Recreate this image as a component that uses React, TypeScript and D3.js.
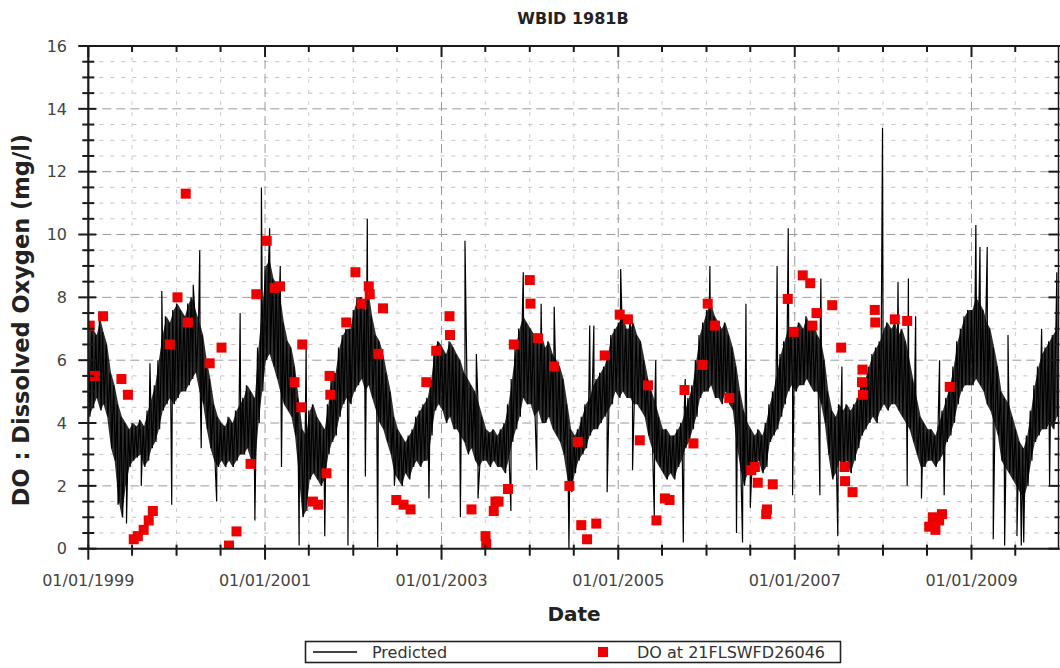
import React, { useEffect, useRef } from 'react';
import * as d3 from 'd3';

// ---- data ----
const START = '1999-01-01';
const END = '2009-12-31';

// predicted DO trace, upper / lower edge of the daily band, two samples per month (1st and 16th)
const predHi = [
  7.2, 7.0, 6.8, 7.3, 6.9, 6.5, 5.6, 5.2, 4.6, 4.2, 4.0, 3.8, 4.0, 3.9, 4.1, 3.9, 4.4, 4.8, 5.2, 6.0, 6.8, 7.4, 7.2, 7.6, // 1999
  7.8, 7.6, 7.4, 7.8, 8.0, 7.6, 7.2, 6.8, 6.0, 5.4, 4.6, 4.2, 4.0, 3.9, 4.2, 4.0, 4.4, 4.6, 4.8, 5.2, 5.0, 4.8, 6.4, 7.6, // 2000
  9.0, 9.2, 8.6, 8.4, 8.0, 7.2, 6.6, 6.4, 5.8, 4.8, 3.8, 3.6, 4.4, 4.6, 4.2, 4.0, 3.8, 4.6, 5.4, 5.6, 6.4, 6.8, 7.0, 7.0, // 2001
  7.6, 8.0, 8.0, 7.6, 8.2, 7.4, 6.8, 6.6, 6.2, 5.6, 5.0, 4.2, 3.8, 3.6, 3.4, 3.6, 3.8, 4.2, 4.4, 4.6, 4.8, 5.4, 6.4, 6.6, // 2002
  6.4, 6.2, 6.6, 6.4, 6.2, 6.0, 5.6, 5.4, 5.2, 5.0, 4.6, 4.2, 3.8, 3.7, 3.8, 3.6, 3.8, 4.0, 4.6, 5.4, 6.4, 7.0, 7.4, 7.2, // 2003
  7.0, 6.8, 6.6, 6.8, 6.4, 6.6, 6.2, 6.0, 5.8, 5.4, 4.6, 3.8, 3.6, 3.8, 4.2, 4.6, 4.8, 5.2, 5.4, 5.6, 5.8, 6.2, 6.8, 7.0, // 2004
  7.2, 7.4, 7.0, 7.0, 7.2, 6.8, 6.6, 6.0, 5.4, 5.0, 4.6, 4.2, 3.8, 3.8, 3.6, 3.6, 3.8, 4.0, 4.4, 4.8, 5.2, 6.0, 6.8, 7.2, // 2005
  7.6, 7.8, 7.4, 7.2, 7.0, 7.2, 6.8, 6.4, 5.8, 5.0, 4.4, 4.0, 3.8, 3.6, 3.8, 3.6, 4.0, 4.6, 5.0, 5.6, 6.2, 6.6, 7.0, 7.0, // 2006
  7.0, 7.2, 7.0, 7.4, 7.0, 7.2, 6.8, 6.6, 6.0, 5.0, 4.4, 4.2, 4.6, 4.4, 4.6, 4.4, 4.6, 4.8, 5.2, 5.4, 5.8, 6.2, 6.4, 6.6, // 2007
  7.0, 7.2, 7.0, 7.2, 6.8, 7.0, 6.6, 6.0, 5.4, 4.8, 4.2, 4.0, 3.8, 3.8, 3.6, 4.0, 4.4, 4.8, 5.2, 5.8, 6.6, 7.0, 7.4, 7.6, // 2008
  7.6, 8.0, 7.8, 7.6, 7.2, 7.0, 6.4, 5.8, 5.0, 4.8, 4.6, 4.2, 3.8, 3.4, 3.2, 3.6, 4.4, 5.2, 5.8, 6.2, 6.4, 6.6, 6.8, 7.0, // 2009
];
const predLo = [
  4.2, 4.5, 4.8, 4.4, 4.6, 4.2, 3.2, 2.8, 1.6, 1.0, 2.0, 2.6, 2.8, 2.9, 3.0, 2.6, 2.8, 3.2, 3.4, 3.8, 4.4, 4.6, 4.8, 4.6, // 1999
  4.8, 5.0, 5.0, 5.2, 5.4, 5.6, 5.0, 4.6, 3.8, 3.2, 2.8, 2.6, 2.8, 2.6, 2.8, 2.6, 2.8, 3.0, 3.0, 3.2, 2.8, 2.6, 4.0, 5.0, // 2000
  6.0, 6.2, 5.8, 5.4, 5.0, 4.6, 4.4, 4.2, 3.6, 2.4, 1.0, 1.2, 2.2, 2.4, 2.2, 2.0, 2.2, 3.0, 3.4, 3.6, 4.2, 4.6, 4.8, 4.6, // 2001
  5.0, 5.2, 5.4, 5.0, 5.2, 4.8, 4.4, 4.0, 3.8, 3.4, 3.0, 2.4, 2.2, 2.0, 2.4, 2.2, 2.6, 2.8, 2.6, 2.8, 2.8, 3.6, 4.4, 4.6, // 2002
  4.4, 4.0, 4.2, 3.8, 3.8, 3.6, 3.4, 3.0, 3.2, 2.8, 2.6, 2.8, 2.8, 2.6, 2.8, 2.6, 2.6, 2.4, 2.8, 3.4, 3.8, 4.2, 4.8, 4.6, // 2003
  4.6, 4.2, 4.4, 4.0, 4.0, 4.2, 3.8, 3.6, 3.4, 3.0, 2.2, 1.8, 2.4, 2.8, 3.0, 3.2, 3.6, 3.8, 3.8, 4.0, 4.2, 4.4, 4.6, 5.0, // 2004
  4.8, 5.0, 4.8, 4.8, 4.6, 4.6, 4.4, 4.2, 3.6, 3.2, 2.8, 2.6, 2.4, 2.2, 2.4, 2.2, 2.6, 2.8, 3.2, 3.4, 3.8, 4.2, 4.8, 5.0, // 2005
  5.0, 5.2, 4.8, 4.8, 4.6, 5.0, 4.6, 4.4, 3.4, 2.6, 2.0, 2.4, 2.6, 2.6, 2.8, 2.4, 2.6, 3.4, 3.6, 3.8, 4.2, 4.6, 5.0, 5.2, // 2006
  5.0, 5.2, 5.2, 5.4, 5.2, 5.0, 5.0, 4.6, 4.0, 3.0, 2.2, 2.4, 2.8, 2.6, 2.8, 2.4, 2.8, 3.2, 3.6, 3.8, 4.0, 4.2, 4.0, 4.4, // 2007
  4.6, 4.4, 4.6, 4.6, 4.4, 4.2, 4.0, 3.8, 3.4, 3.0, 2.6, 2.6, 2.8, 2.8, 2.6, 2.8, 3.0, 3.4, 3.6, 4.0, 4.6, 5.0, 5.2, 5.2, // 2008
  5.2, 5.4, 5.2, 5.0, 4.6, 4.4, 4.0, 3.6, 2.8, 2.6, 2.4, 2.2, 2.0, 1.8, 1.6, 2.0, 2.8, 3.4, 3.6, 3.8, 3.8, 4.0, 3.8, 4.2, // 2009
];

// isolated spikes of the predicted trace
const predSpikes: [string, number][] = [
  ['1999-05-04', 1.4], ['1999-06-08', 0.8], ['1999-08-08', 2.0], ['1999-09-13', 5.9], ['1999-11-01', 8.2], ['1999-12-12', 1.4],
  ['2000-03-10', 8.4], ['2000-04-06', 9.5], ['2000-04-12', 3.2], ['2000-06-15', 1.5], ['2000-09-20', 7.5], ['2000-11-20', 0.9], ['2000-12-17', 11.5],
  ['2001-01-20', 10.2], ['2001-03-05', 9.0], ['2001-03-10', 2.6], ['2001-05-22', 0.1], ['2001-06-20', 6.4], ['2001-09-05', 0.4], ['2001-12-10', 0.1],
  ['2002-02-20', 2.3], ['2002-02-28', 10.5], ['2002-04-12', 0.05], ['2002-06-20', 2.0], ['2002-11-10', 1.6],
  ['2003-03-20', 1.0], ['2003-04-08', 9.8], ['2003-05-25', 6.2], ['2003-06-01', 1.6], ['2003-10-15', 1.2], ['2003-12-05', 8.8],
  ['2004-01-30', 2.5], ['2004-02-17', 7.8], ['2004-04-11', 7.7], ['2004-06-11', 0.0], ['2004-09-05', 7.1], ['2004-09-22', 7.1], ['2004-11-16', 1.8],
  ['2005-01-11', 8.9], ['2005-02-20', 7.4], ['2005-03-01', 2.5], ['2005-05-30', 1.0], ['2005-06-05', 6.0], ['2005-09-27', 0.2], ['2005-10-05', 5.4],
  ['2006-01-15', 9.0], ['2006-05-05', 0.5], ['2006-05-30', 0.2], ['2006-06-13', 7.8], ['2006-07-01', 1.3], ['2006-10-20', 9.0], ['2006-12-05', 10.2], ['2006-12-23', 1.7],
  ['2007-04-15', 1.7], ['2007-04-19', 8.6], ['2007-06-28', 0.4], ['2007-07-15', 5.8], ['2007-12-30', 13.4],
  ['2008-03-03', 8.5], ['2008-04-10', 2.0], ['2008-04-15', 8.6], ['2008-05-15', 7.4], ['2008-06-08', 1.6], ['2008-08-22', 6.0], ['2008-09-10', 1.7],
  ['2009-01-19', 10.3], ['2009-02-05', 9.6], ['2009-03-07', 9.6], ['2009-04-01', 0.3], ['2009-05-18', 0.1], ['2009-06-01', 6.8], ['2009-07-08', 0.4],
  ['2009-07-26', 0.1], ['2009-08-05', 0.2], ['2009-10-18', 7.0], ['2009-11-20', 2.0], ['2009-12-20', 8.8],
];

// measured DO at station 21FLSWFD26046
const observed: [string, number][] = [
  ['1999-01-07', 7.1], ['1999-01-28', 5.5], ['1999-03-03', 7.4], ['1999-05-18', 5.4], ['1999-06-14', 4.9], ['1999-07-08', 0.3],
  ['1999-07-25', 0.4], ['1999-08-18', 0.6], ['1999-09-08', 0.9], ['1999-09-25', 1.2], ['1999-12-04', 6.5],
  ['2000-01-05', 8.0], ['2000-02-08', 11.3], ['2000-02-17', 7.2], ['2000-05-17', 5.9], ['2000-07-05', 6.4], ['2000-08-05', 0.1],
  ['2000-09-05', 0.55], ['2000-11-02', 2.7], ['2000-11-26', 8.1],
  ['2001-01-08', 9.8], ['2001-02-10', 8.3], ['2001-03-04', 8.35], ['2001-05-03', 5.3], ['2001-05-31', 4.5], ['2001-06-04', 6.5],
  ['2001-07-18', 1.5], ['2001-08-09', 1.4], ['2001-09-12', 2.4], ['2001-09-25', 5.5], ['2001-09-28', 4.9], ['2001-12-03', 7.2],
  ['2002-01-10', 8.8], ['2002-02-04', 7.8], ['2002-03-06', 8.35], ['2002-03-10', 8.1], ['2002-04-15', 6.2], ['2002-05-04', 7.65],
  ['2002-06-28', 1.55], ['2002-07-28', 1.4], ['2002-08-26', 1.25], ['2002-10-30', 5.3], ['2002-12-10', 6.3],
  ['2003-02-03', 7.4], ['2003-02-05', 6.8], ['2003-05-05', 1.25], ['2003-07-02', 0.4], ['2003-07-05', 0.15], ['2003-08-05', 1.2],
  ['2003-08-12', 1.5], ['2003-08-25', 1.5], ['2003-10-03', 1.9], ['2003-10-27', 6.5],
  ['2004-01-01', 8.55], ['2004-01-04', 7.8], ['2004-02-04', 6.7], ['2004-04-10', 5.8], ['2004-06-13', 2.0], ['2004-07-18', 3.4],
  ['2004-08-01', 0.75], ['2004-08-25', 0.3], ['2004-10-02', 0.8], ['2004-11-06', 6.15],
  ['2005-01-07', 7.45], ['2005-02-10', 7.3], ['2005-03-31', 3.45], ['2005-05-04', 5.2], ['2005-06-08', 0.9], ['2005-07-13', 1.6],
  ['2005-08-01', 1.55], ['2005-10-02', 5.05], ['2005-11-08', 3.35], ['2005-12-15', 5.85],
  ['2006-01-06', 7.8], ['2006-02-05', 7.1], ['2006-04-05', 4.8], ['2006-07-05', 2.5], ['2006-07-20', 2.6], ['2006-08-01', 2.1],
  ['2006-09-05', 1.1], ['2006-09-08', 1.25], ['2006-10-02', 2.05], ['2006-12-03', 7.95], ['2006-12-28', 6.9],
  ['2007-02-03', 8.7], ['2007-03-06', 8.45], ['2007-03-15', 7.1], ['2007-04-01', 7.5], ['2007-06-05', 7.75], ['2007-07-12', 6.4],
  ['2007-07-26', 2.6], ['2007-07-28', 2.15], ['2007-08-28', 1.8], ['2007-10-06', 5.3], ['2007-10-08', 5.7], ['2007-10-10', 4.9],
  ['2007-11-28', 7.6], ['2007-11-30', 7.2], ['2008-02-19', 7.3], ['2008-04-10', 7.25], ['2008-07-10', 0.7], ['2008-07-25', 1.0],
  ['2008-08-05', 0.6], ['2008-08-20', 0.9], ['2008-09-01', 1.1], ['2008-10-03', 5.15],
];

const yTicks = [0, 2, 4, 6, 8, 10, 12, 14, 16];

const W = 1060;
const H = 668;
const PLOT = { left: 88.3, right: 1059.5, top: 46, bottom: 548.7 };
const FONT = '"DejaVu Sans", Verdana, sans-serif';

const App = () => {
  const svgRef = useRef<SVGSVGElement>(null);

  useEffect(() => {
    const svg = d3.select(svgRef.current);
    svg.selectAll('*').remove();
    const parse = d3.timeParse('%Y-%m-%d');

    const x = d3
      .scaleTime()
      .domain([parse(START)!, parse(END)!])
      .range([PLOT.left, PLOT.right]);
    const y = d3.scaleLinear().domain([0, 16]).range([PLOT.bottom, PLOT.top]);

    // grid
    const grid = svg.append('g');
    const minorY = d3.range(0, 16.01, 0.5).filter((v) => v % 2 !== 0);
    grid
      .selectAll('.gy-minor')
      .data(minorY)
      .enter()
      .append('line')
      .attr('x1', PLOT.left)
      .attr('x2', PLOT.right)
      .attr('y1', (d) => y(d))
      .attr('y2', (d) => y(d))
      .attr('stroke', '#c4c4c4')
      .attr('stroke-dasharray', '4,7');
    grid
      .selectAll('.gy-major')
      .data(yTicks.filter((v) => v > 0 && v < 16))
      .enter()
      .append('line')
      .attr('x1', PLOT.left)
      .attr('x2', PLOT.right)
      .attr('y1', (d) => y(d))
      .attr('y2', (d) => y(d))
      .attr('stroke', '#9a9a9a')
      .attr('stroke-dasharray', '9,5');

    const halfYears = d3.timeMonth.every(6)!.range(parse(START)!, parse(END)!);
    const isMajor = (d: Date) => d.getMonth() === 0 && d.getFullYear() % 2 === 1;
    grid
      .selectAll('.gx')
      .data(halfYears.filter((d) => +d !== +parse(START)!))
      .enter()
      .append('line')
      .attr('x1', (d) => x(d))
      .attr('x2', (d) => x(d))
      .attr('y1', PLOT.top)
      .attr('y2', PLOT.bottom)
      .attr('stroke', (d) => (isMajor(d) ? '#9a9a9a' : '#cdcdcd'))
      .attr('stroke-dasharray', (d) => (isMajor(d) ? '9,5' : '4,7'));

    // predicted trace
    const sampleDate = (i: number, offset: number) => {
      const yr = 1999 + Math.floor(i / 24);
      const m = Math.floor((i % 24) / 2);
      return new Date(yr, m, (i % 2 === 0 ? 1 : 16) + offset);
    };
    const envelope = predHi.map((hi, i) => ({ date: sampleDate(i, 4), hi, lo: predLo[i] }));
    const band = predHi.flatMap((hi, i) => [
      { date: sampleDate(i, 0), value: hi },
      { date: sampleDate(i, 7), value: predLo[i] },
    ]);
    const spikes = predSpikes.map(([d, v]) => ({ date: parse(d)!, value: v }));
    const predicted = [...band, ...spikes].sort((a, b) => +a.date - +b.date);

    svg
      .append('clipPath')
      .attr('id', 'plot-clip')
      .append('rect')
      .attr('x', PLOT.left)
      .attr('y', PLOT.top)
      .attr('width', PLOT.right - PLOT.left)
      .attr('height', PLOT.bottom - PLOT.top);

    const area = d3
      .area<{ date: Date; hi: number; lo: number }>()
      .x((d) => x(d.date))
      .y0((d) => y(d.lo))
      .y1((d) => y(d.hi));
    svg
      .append('path')
      .datum(envelope)
      .attr('clip-path', 'url(#plot-clip)')
      .attr('d', area)
      .attr('fill', '#000')
      .attr('fill-opacity', 0.82);

    const line = d3
      .line<{ date: Date; value: number }>()
      .x((d) => x(d.date))
      .y((d) => y(d.value));

    svg
      .append('path')
      .datum(predicted)
      .attr('clip-path', 'url(#plot-clip)')
      .attr('d', line)
      .attr('fill', 'none')
      .attr('stroke', '#000')
      .attr('stroke-width', 1.2);

    // observations
    const SQ = 10;
    svg
      .append('g')
      .attr('clip-path', 'url(#plot-clip)')
      .selectAll('rect')
      .data(observed)
      .enter()
      .append('rect')
      .attr('x', ([d]) => x(parse(d)!) - SQ / 2)
      .attr('y', ([, v]) => y(v) - SQ / 2)
      .attr('width', SQ)
      .attr('height', SQ)
      .attr('fill', '#ee0000');

    // axes frame
    const axisColor = '#1a1a1a';
    const frame = svg.append('g').attr('stroke', axisColor);
    frame
      .append('line')
      .attr('x1', PLOT.left).attr('x2', PLOT.left)
      .attr('y1', PLOT.top).attr('y2', PLOT.bottom)
      .attr('stroke-width', 2.2);
    frame
      .append('line')
      .attr('x1', PLOT.left - 8).attr('x2', PLOT.right)
      .attr('y1', PLOT.bottom).attr('y2', PLOT.bottom)
      .attr('stroke-width', 2);
    frame
      .append('line')
      .attr('x1', PLOT.left - 8).attr('x2', W)
      .attr('y1', PLOT.top).attr('y2', PLOT.top)
      .attr('stroke-width', 2);
    frame
      .append('line')
      .attr('x1', PLOT.right - 1).attr('x2', PLOT.right - 1)
      .attr('y1', PLOT.top).attr('y2', PLOT.bottom)
      .attr('stroke-width', 1.5);

    // y ticks (left crosses the axis, right points inward)
    const yAll = d3.range(0, 16.01, 0.5);
    frame
      .selectAll('.yt')
      .data(yAll)
      .enter()
      .append('line')
      .attr('x1', (d) => PLOT.left - (d % 2 === 0 ? 10 : 6))
      .attr('x2', (d) => PLOT.left + (d % 2 === 0 ? 8 : 6))
      .attr('y1', (d) => y(d))
      .attr('y2', (d) => y(d))
      .attr('stroke-width', 2);
    frame
      .selectAll('.yr')
      .data(yAll)
      .enter()
      .append('line')
      .attr('x1', (d) => PLOT.right - (d % 2 === 0 ? 11 : 5))
      .attr('x2', PLOT.right)
      .attr('y1', (d) => y(d))
      .attr('y2', (d) => y(d))
      .attr('stroke-width', 2);

    // x ticks every six months
    frame
      .selectAll('.xt')
      .data(halfYears)
      .enter()
      .append('line')
      .attr('x1', (d) => x(d))
      .attr('x2', (d) => x(d))
      .attr('y1', PLOT.bottom - 4)
      .attr('y2', (d) => PLOT.bottom + (isMajor(d) ? 11 : 7))
      .attr('stroke-width', 2);
    frame
      .selectAll('.xtt')
      .data(halfYears)
      .enter()
      .append('line')
      .attr('x1', (d) => x(d))
      .attr('x2', (d) => x(d))
      .attr('y1', PLOT.top)
      .attr('y2', (d) => PLOT.top + (isMajor(d) ? 11 : 6))
      .attr('stroke-width', 2);

    // tick labels
    const fmt = d3.timeFormat('%m/%d/%Y');
    svg
      .append('g')
      .selectAll('text')
      .data(halfYears.filter(isMajor))
      .enter()
      .append('text')
      .attr('x', (d) => x(d))
      .attr('y', 586)
      .attr('text-anchor', 'middle')
      .attr('font-family', FONT)
      .attr('font-size', 16)
      .attr('fill', '#444')
      .text((d) => fmt(d));
    svg
      .append('g')
      .selectAll('text')
      .data(yTicks)
      .enter()
      .append('text')
      .attr('x', 67)
      .attr('y', (d) => y(d))
      .attr('dy', '0.36em')
      .attr('text-anchor', 'end')
      .attr('font-family', FONT)
      .attr('font-size', 16)
      .attr('fill', '#444')
      .text((d) => d);

    // titles
    svg
      .append('text')
      .attr('x', 573)
      .attr('y', 24)
      .attr('text-anchor', 'middle')
      .attr('font-family', FONT)
      .attr('font-weight', 'bold')
      .attr('font-size', 16)
      .attr('fill', '#222')
      .text('WBID 1981B');
    svg
      .append('text')
      .attr('x', 574)
      .attr('y', 621)
      .attr('text-anchor', 'middle')
      .attr('font-family', FONT)
      .attr('font-weight', 'bold')
      .attr('font-size', 20)
      .attr('fill', '#222')
      .text('Date');
    svg
      .append('text')
      .attr('transform', 'translate(29, 320) rotate(-90)')
      .attr('text-anchor', 'middle')
      .attr('font-family', FONT)
      .attr('font-weight', 'bold')
      .attr('font-size', 22.5)
      .attr('fill', '#222')
      .text('DO : Dissolved Oxygen (mg/l)');

    // legend
    const lg = svg.append('g');
    lg.append('rect')
      .attr('x', 305.5)
      .attr('y', 641.5)
      .attr('width', 535)
      .attr('height', 21)
      .attr('fill', '#fff')
      .attr('stroke', '#222')
      .attr('stroke-width', 1.6);
    lg.append('line')
      .attr('x1', 313)
      .attr('x2', 357)
      .attr('y1', 652)
      .attr('y2', 652)
      .attr('stroke', '#444')
      .attr('stroke-width', 2);
    lg.append('text')
      .attr('x', 372)
      .attr('y', 658)
      .attr('font-family', FONT)
      .attr('font-size', 16)
      .attr('fill', '#333')
      .text('Predicted');
    lg.append('rect')
      .attr('x', 598)
      .attr('y', 647)
      .attr('width', 10)
      .attr('height', 10)
      .attr('fill', '#ee0000');
    lg.append('text')
      .attr('x', 637)
      .attr('y', 658)
      .attr('font-family', FONT)
      .attr('font-size', 16)
      .attr('fill', '#333')
      .text('DO at 21FLSWFD26046');
  }, []);

  return (
    <svg
      ref={svgRef}
      width={W}
      height={H}
      style={{ position: 'absolute', left: 0, top: 0, background: '#fff' }}
    />
  );
};

export default App;
